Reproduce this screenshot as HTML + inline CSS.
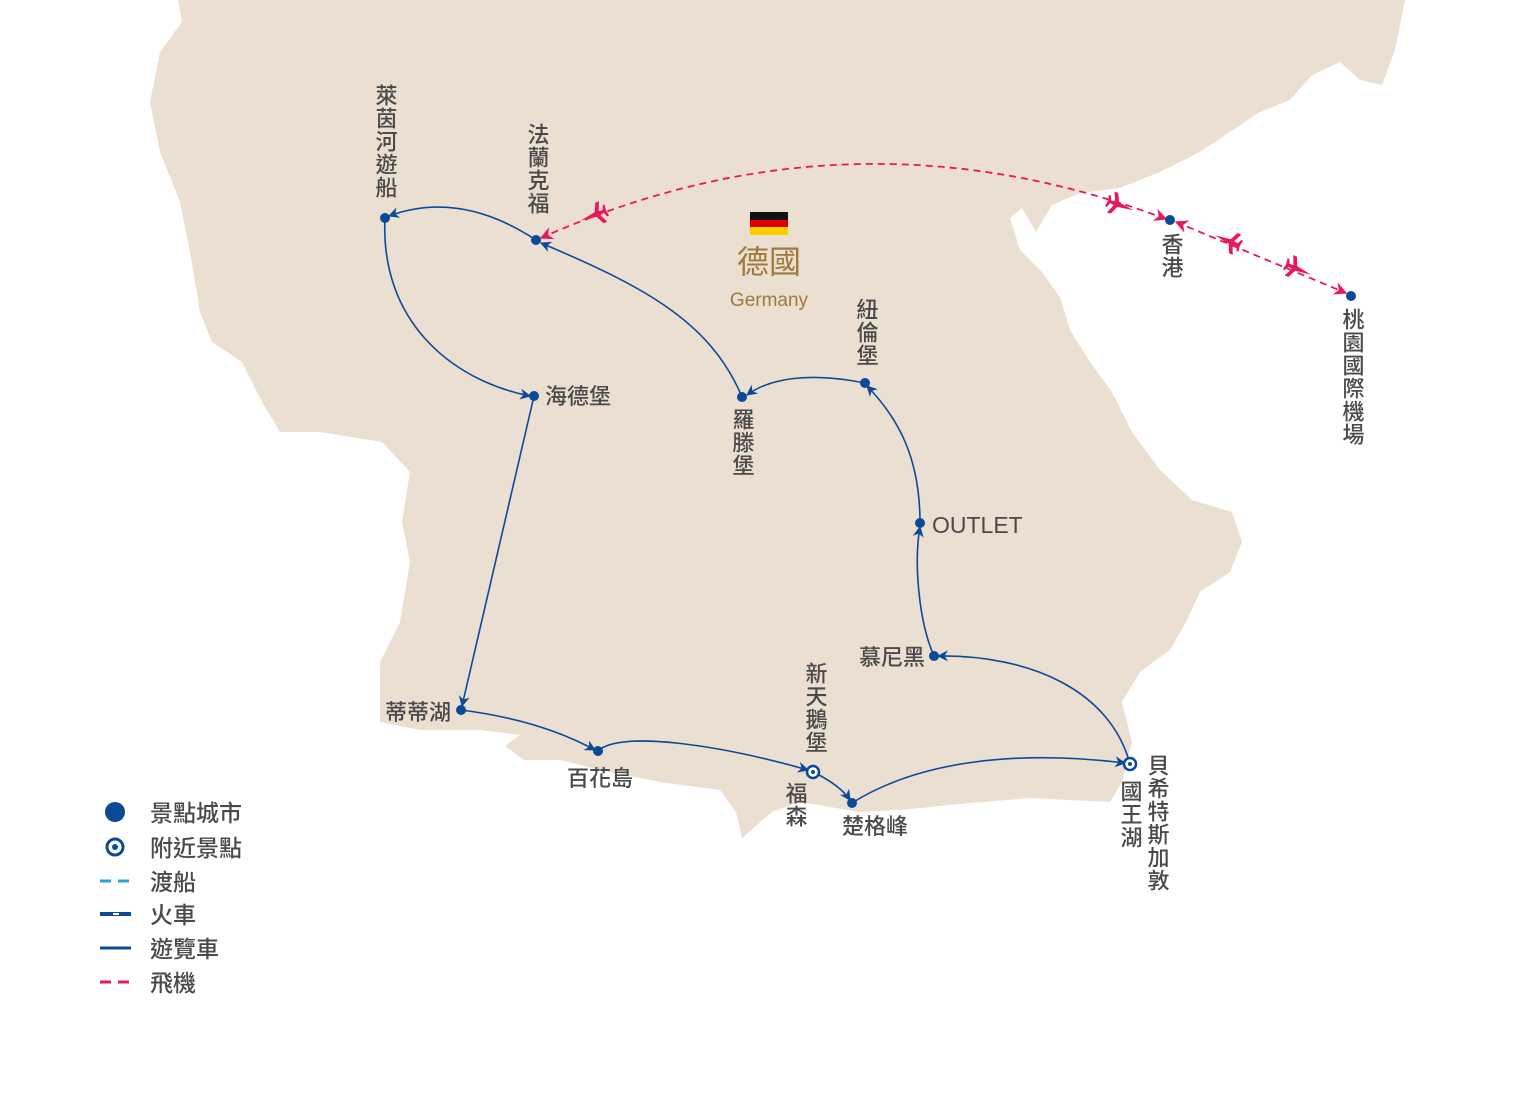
<!DOCTYPE html>
<html><head><meta charset="utf-8">
<style>
html,body{margin:0;padding:0;background:#fff;width:1516px;height:1100px;overflow:hidden}
svg{display:block}
text{font-family:"Liberation Sans","Noto Sans CJK TC",sans-serif;fill:#4a4a4a;font-weight:500}
.v{writing-mode:vertical-rl;text-orientation:upright;letter-spacing:1px}
</style></head><body>
<svg width="1516" height="1100" viewBox="0 0 1516 1100" xmlns="http://www.w3.org/2000/svg">
<defs>
<marker id="a" viewBox="0 0 10 10" refX="9" refY="5" markerWidth="11" markerHeight="11" orient="auto-start-reverse" markerUnits="userSpaceOnUse"><path d="M0,0 L10,5 L0,10 L3,5z" fill="#0a4a97"/></marker>
<marker id="p" viewBox="0 0 10 10" refX="9" refY="5" markerWidth="13" markerHeight="13" orient="auto-start-reverse" markerUnits="userSpaceOnUse"><path d="M0,0 L10,5 L0,10 L3,5z" fill="#e8185f"/></marker>
<path id="pl" d="M12,0 L-4,-2.5 L-8,-11 L-12,-11 L-8,-2 L-12,-1.5 L-14,-6 L-16,-6 L-15,0 L-16,6 L-14,6 L-12,1.5 L-8,2 L-12,11 L-8,11 L-4,2.5 Z" fill="#e8185f"/>
</defs>
<path fill="#ebdfd2" d="M178,0 L1405,0 L1395,50 L1382,85 L1360,80 L1340,62 L1312,75 L1290,100 L1260,112 L1230,132 L1200,152 L1160,172 L1120,188 L1080,193 L1052,205 L1036,232 L1022,208 L1010,218 L1020,250 L1042,272 L1060,297 L1070,330 L1090,362 L1112,392 L1132,432 L1160,470 L1192,500 L1232,512 L1242,542 L1230,572 L1200,592 L1186,622 L1170,650 L1140,672 L1122,702 L1132,742 L1122,782 L1110,802 L1030,798 L960,804 L900,810 L860,812 L800,802 L772,812 L742,838 L736,812 L720,790 L660,782 L600,770 L560,760 L524,760 L505,746 L520,735 L480,730 L420,730 L380,722 L380,662 L400,622 L410,562 L402,522 L410,472 L382,442 L320,432 L280,432 L262,402 L242,362 L212,342 L200,312 L190,252 L180,202 L160,152 L150,102 L160,52 L182,22 Z"/>
<g fill="none" stroke="#0a4a97" stroke-width="1.6" marker-end="url(#a)">
<path d="M536,240 Q460,190 389,216"/>
<path d="M385,218 C380,320 450,380 530,396"/>
<path d="M534,396 L462,706"/>
<path d="M461,710 Q540,720 595,750"/>
<path d="M598,751 C620,730 720,745 808,770"/>
<path d="M813,772 Q840,785 850,800"/>
<path d="M852,803 C920,760 1020,750 1125,763"/>
<path d="M1130,764 C1110,690 1030,655 938,656"/>
<path d="M934,656 C918,620 914,560 920,527"/>
<path d="M920,523 C920,460 900,420 867,386"/>
<path d="M865,383 C810,372 770,378 747,395"/>
<path d="M742,397 C710,320 640,285 541,243"/>
</g>
<g fill="none" stroke="#e8185f" stroke-width="1.8" stroke-dasharray="7,5">
<path d="M1166,219 Q850,100 541,238" marker-start="url(#p)" marker-end="url(#p)"/>
<path d="M1176,222 L1346,293" marker-start="url(#p)" marker-end="url(#p)"/>
</g>
<use href="#pl" transform="translate(1122,206) rotate(20)"/>
<use href="#pl" transform="translate(1300,270) rotate(23)"/>
<use href="#pl" transform="translate(1226,240) rotate(203)"/>
<use href="#pl" transform="translate(592,216) rotate(158)"/>
<g fill="#0a4a97">
<circle cx="385" cy="218" r="5"/><circle cx="536" cy="240" r="5"/><circle cx="534" cy="396" r="5"/>
<circle cx="742" cy="397" r="5"/><circle cx="865" cy="383" r="5"/><circle cx="920" cy="523" r="5"/>
<circle cx="934" cy="656" r="5"/><circle cx="461" cy="710" r="5"/><circle cx="598" cy="751" r="5"/>
<circle cx="852" cy="803" r="5"/><circle cx="1170" cy="220" r="5"/><circle cx="1351" cy="296" r="5"/>
</g>
<g fill="#fff" stroke="#0a4a97" stroke-width="2.5">
<circle cx="813" cy="772" r="6"/><circle cx="1130" cy="764" r="6"/>
</g>
<circle cx="813" cy="772" r="2" fill="#0a4a97"/><circle cx="1130" cy="764" r="2" fill="#0a4a97"/>
<rect x="750" y="212" width="38" height="8" fill="#111"/><rect x="750" y="220" width="38" height="7" fill="#dd0000"/><rect x="750" y="227" width="38" height="8" fill="#ffce00"/>
<text x="769" y="273" font-size="32" text-anchor="middle" style="fill:#a07a3c;font-weight:400">德國</text>
<text x="769" y="306" font-size="19" text-anchor="middle" style="fill:#a07a3c;font-weight:400">Germany</text>
<g font-size="22">
<text class="v" x="385" y="84">萊茵河遊船</text>
<text class="v" x="537" y="123">法蘭克福</text>
<text x="545" y="404">海德堡</text>
<text class="v" x="742" y="408">羅滕堡</text>
<text class="v" x="866" y="298">紐倫堡</text>
<text x="932" y="533" font-size="23">OUTLET</text>
<text x="925" y="665" text-anchor="end">慕尼黑</text>
<text x="451" y="720" text-anchor="end">蒂蒂湖</text>
<text x="600" y="786" text-anchor="middle">百花島</text>
<text class="v" x="815" y="662">新天鵝堡</text>
<text class="v" x="795" y="782">福森</text>
<text x="842" y="834">楚格峰</text>
<text class="v" x="1130" y="780">國王湖</text>
<text class="v" x="1157" y="754">貝希特斯加敦</text>
<text class="v" x="1171" y="233">香港</text>
<text class="v" x="1352" y="308">桃園國際機場</text>
</g>
<circle cx="115" cy="812" r="10" fill="#0a4a97"/>
<circle cx="115" cy="847" r="8" fill="#fff" stroke="#0a4a97" stroke-width="3"/><circle cx="115" cy="847" r="3" fill="#0a4a97"/>
<line x1="100" y1="881" x2="131" y2="881" stroke="#2ea0e0" stroke-width="3" stroke-dasharray="11,7"/>
<line x1="100" y1="914" x2="131" y2="914" stroke="#0a4a97" stroke-width="4"/><rect x="113" y="913" width="6" height="2" fill="#fff"/>
<line x1="100" y1="948" x2="131" y2="948" stroke="#0a4a97" stroke-width="3"/>
<line x1="100" y1="982" x2="131" y2="982" stroke="#e8185f" stroke-width="3" stroke-dasharray="11,7"/>
<g font-size="23">
<text x="150" y="821">景點城市</text>
<text x="150" y="856">附近景點</text>
<text x="150" y="890">渡船</text>
<text x="150" y="923">火車</text>
<text x="150" y="957">遊覽車</text>
<text x="150" y="991">飛機</text>
</g>
</svg>
</body></html>
